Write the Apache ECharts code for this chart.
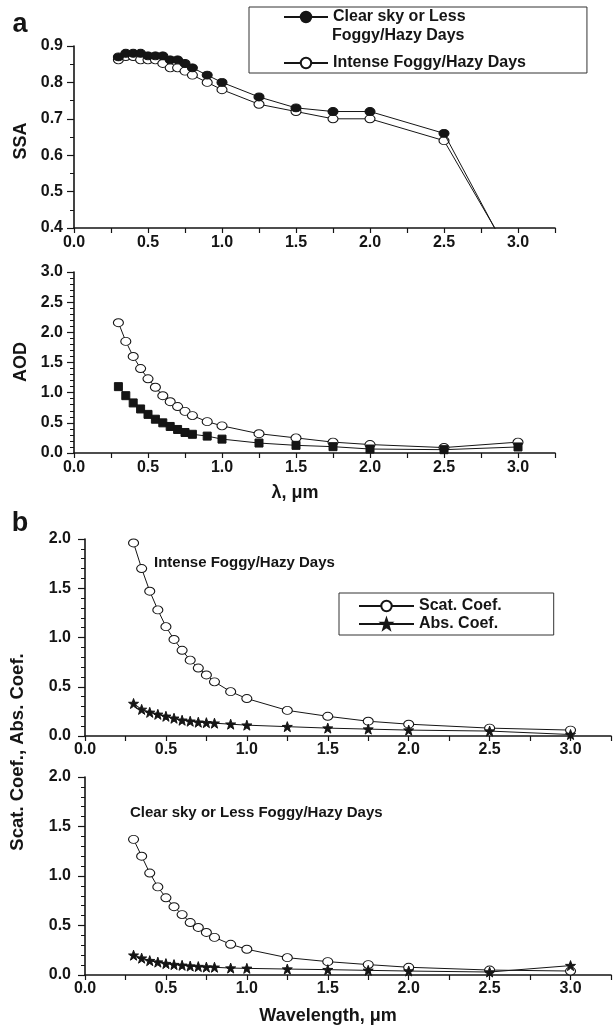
<!DOCTYPE html>
<html>
<head>
<meta charset="utf-8">
<script src="https://cdn.jsdelivr.net/npm/echarts@6/dist/echarts.min.js"></script>
<style>
html,body{margin:0;padding:0;background:#fff;}
#chart{width:614px;height:1026px;}
</style>
</head>
<body>
<div id="chart"></div>
<script>
// ---- data ----
const wavelengths = [0.3,0.35,0.4,0.45,0.5,0.55,0.6,0.65,0.7,0.75,0.8,0.9,1.0,1.25,1.5,1.75,2.0,2.5,3.0];
const ssaClear    = [0.87,0.88,0.88,0.88,0.873,0.873,0.873,0.862,0.862,0.852,0.84,0.82,0.80,0.76,0.73,0.72,0.72,0.66,0.28];
const ssaIntense  = [0.862,0.871,0.871,0.862,0.862,0.862,0.852,0.84,0.84,0.831,0.82,0.80,0.78,0.74,0.72,0.70,0.70,0.64,0.29];
const aodClear    = [1.10,0.95,0.83,0.73,0.64,0.56,0.50,0.44,0.39,0.34,0.31,0.28,0.23,0.165,0.127,0.105,0.066,0.055,0.10];
const aodIntense  = [2.16,1.85,1.60,1.40,1.23,1.09,0.95,0.85,0.77,0.69,0.62,0.52,0.45,0.32,0.25,0.18,0.14,0.09,0.18];
const scatIntense = [1.96,1.70,1.47,1.28,1.11,0.98,0.87,0.77,0.69,0.62,0.55,0.45,0.38,0.26,0.20,0.15,0.12,0.08,0.06];
const absIntense  = [0.33,0.27,0.24,0.22,0.20,0.18,0.16,0.15,0.14,0.135,0.13,0.12,0.11,0.095,0.08,0.07,0.06,0.05,0.015];
const scatClear   = [1.37,1.20,1.03,0.89,0.78,0.69,0.61,0.53,0.48,0.43,0.38,0.31,0.26,0.175,0.135,0.105,0.078,0.05,0.04];
const absClear    = [0.20,0.17,0.145,0.13,0.115,0.105,0.098,0.09,0.085,0.08,0.078,0.07,0.067,0.06,0.054,0.047,0.04,0.03,0.095];
const xTicks = [0.0,0.5,1.0,1.5,2.0,2.5,3.0];

const FONT = '"Liberation Sans", Arial, sans-serif';
const INK = '#151515';
const pairs = ys => wavelengths.map((x,i)=>[x, ys[i]]);
const STAR = 'path://M0,-10 L2.35,-3.24 L9.51,-3.09 L3.8,1.24 L5.88,8.09 L0,4 L-5.88,8.09 L-3.8,1.24 L-9.51,-3.09 L-2.35,-3.24 Z';

function xAxisCfg(gridIndex, margin){
  return {
    gridIndex, type:'value', min:0, max:3.25, interval:0.25,
    axisLine:{show:true, onZero:false, lineStyle:{color:INK, width:1.6}},
    axisTick:{show:true, length:5, lineStyle:{color:INK, width:1.2}},
    splitLine:{show:false},
    axisLabel:{
      margin, color:INK, fontFamily:FONT, fontWeight:'bold', fontSize:16,
      showMaxLabel:true,
      formatter: v => {
        const hit = xTicks.find(t => Math.abs(t - v) < 1e-6);
        return hit === undefined ? '' : hit.toFixed(1);
      }
    }
  };
}
function yAxisCfg(gridIndex, min, max, interval, minorSplit, margin){
  return {
    gridIndex, type:'value', min, max, interval,
    axisLine:{show:true, onZero:false, lineStyle:{color:INK, width:1.6}},
    axisTick:{show:true, length:7, lineStyle:{color:INK, width:1.2}},
    minorTick:{show:true, splitNumber:minorSplit, length:4, lineStyle:{color:INK, width:1}},
    splitLine:{show:false}, minorSplitLine:{show:false},
    axisLabel:{margin, color:INK, fontFamily:FONT, fontWeight:'bold', fontSize:16,
      formatter: v => v.toFixed(1)}
  };
}
function lineSeries(name, idx, data, symbol, size, fill){
  return {
    name, type:'line', xAxisIndex:idx, yAxisIndex:idx, data:pairs(data),
    symbol, symbolSize:size, showAllSymbol:true, clip:true,
    lineStyle:{color:INK, width:1},
    itemStyle:{color:fill, borderColor:INK, borderWidth:1},
    emphasis:{disabled:true}, animation:false, z: fill === '#fff' ? 2 : 3
  };
}

const chart = echarts.init(document.getElementById('chart'), null, {renderer:'canvas'});
const option = {
  backgroundColor:'#fff',
  animation:false,
  grid:[
    {left:74, right:59, top:46, height:182},
    {left:74, right:59, top:272, height:181},
    {left:85, right:2, top:539, height:197},
    {left:85, right:2, top:777, height:198}
  ],
  xAxis:[ xAxisCfg(0,7), xAxisCfg(1,7), xAxisCfg(2,6), xAxisCfg(3,6) ],
  yAxis:[
    yAxisCfg(0, 0.4, 0.9, 0.1, 2, 11),
    yAxisCfg(1, 0, 3, 0.5, 5, 11),
    yAxisCfg(2, 0, 2, 0.5, 5, 14),
    yAxisCfg(3, 0, 2, 0.5, 5, 14)
  ],
  legend:[
    {
      data:['Clear sky or Less','Intense Foggy/Hazy Days'],
      orient:'vertical', left:249, top:7,
      padding:[2,61,2,34], itemGap:30, itemWidth:44, itemHeight:13,
      borderColor:'#333', borderWidth:1, selectedMode:false,
      textStyle:{color:INK, fontFamily:FONT, fontWeight:'bold', fontSize:16}
    },
    {
      data:['Scat. Coef.','Abs. Coef.'],
      orient:'vertical', left:339, top:593,
      padding:[5,52,3,19], itemGap:2, itemWidth:55, itemHeight:13,
      borderColor:'#333', borderWidth:1, selectedMode:false,
      textStyle:{color:INK, fontFamily:FONT, fontWeight:'bold', fontSize:16}
    }
  ],
  series:[
    lineSeries('Intense Foggy/Hazy Days', 0, ssaIntense, 'circle', [10,8], '#fff'),
    lineSeries('Clear sky or Less', 0, ssaClear, 'circle', [10,8], INK),
    lineSeries('AOD intense', 1, aodIntense, 'circle', [10,8], '#fff'),
    lineSeries('AOD clear', 1, aodClear, 'rect', [8,8], INK),
    lineSeries('Scat. Coef.', 2, scatIntense, 'circle', [10,8], '#fff'),
    lineSeries('Abs. Coef.', 2, absIntense, STAR, 10, INK),
    lineSeries('Scat. Coef.', 3, scatClear, 'circle', [10,8], '#fff'),
    lineSeries('Abs. Coef.', 3, absClear, STAR, 10, INK)
  ],
  graphic:[
    {type:'text', x:20, y:25, style:{text:'a', font:'bold 27px '+FONT, fill:INK, textAlign:'center', textVerticalAlign:'middle'}},
    {type:'text', x:20, y:524, style:{text:'b', font:'bold 27px '+FONT, fill:INK, textAlign:'center', textVerticalAlign:'middle'}},
    {type:'text', x:332, y:36, style:{text:'Foggy/Hazy Days', font:'bold 16px '+FONT, fill:INK, textAlign:'left', textVerticalAlign:'middle'}},
    {type:'text', x:21, y:141, rotation:Math.PI/2, style:{text:'SSA', font:'bold 18px '+FONT, fill:INK, textAlign:'center', textVerticalAlign:'middle'}},
    {type:'text', x:21, y:362, rotation:Math.PI/2, style:{text:'AOD', font:'bold 18px '+FONT, fill:INK, textAlign:'center', textVerticalAlign:'middle'}},
    {type:'text', x:18, y:752, rotation:Math.PI/2, style:{text:'Scat. Coef., Abs. Coef.', font:'bold 18.5px '+FONT, fill:INK, textAlign:'center', textVerticalAlign:'middle'}},
    {type:'text', x:295, y:493, style:{text:'λ, μm', font:'bold 18px '+FONT, fill:INK, textAlign:'center', textVerticalAlign:'middle'}},
    {type:'text', x:328, y:1016, style:{text:'Wavelength, μm', font:'bold 18px '+FONT, fill:INK, textAlign:'center', textVerticalAlign:'middle'}},
    {type:'text', x:154, y:563, style:{text:'Intense Foggy/Hazy Days', font:'bold 15px '+FONT, fill:INK, textAlign:'left', textVerticalAlign:'middle'}},
    {type:'text', x:130, y:813, style:{text:'Clear sky or Less Foggy/Hazy Days', font:'bold 15px '+FONT, fill:INK, textAlign:'left', textVerticalAlign:'middle'}}
  ]
};
chart.setOption(option);
</script>
</body>
</html>
